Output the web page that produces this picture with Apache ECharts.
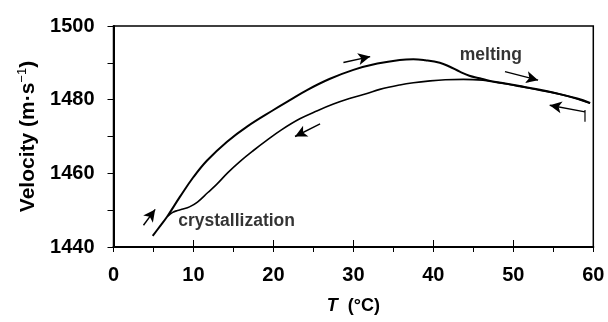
<!DOCTYPE html>
<html>
<head>
<meta charset="utf-8">
<script src="https://cdn.jsdelivr.net/npm/echarts@6/dist/echarts.min.js"></script>
<style>
  html, body { margin: 0; padding: 0; background: #fff; }
  #chart { width: 608px; height: 322px; }
</style>
</head>
<body>
<div id="chart"></div>
<script>
// Sound velocity vs temperature: heating (melting) and cooling (crystallization) runs
const heatT = [4.9, 5.8, 6.7, 8.3, 10, 11.7, 14.2, 16.7, 20, 22, 24.2, 27, 30, 33, 35.8, 37.5, 39, 40.8, 42, 43.3, 44.5, 45.8, 47.1, 49, 50.8, 53, 55.8, 58, 59.6];
const heatV = [1443.0, 1445.6, 1448.2, 1453.6, 1459.0, 1463.5, 1468.6, 1472.7, 1477.2, 1479.8, 1482.6, 1485.6, 1488.1, 1489.8, 1490.8, 1491.0, 1490.7, 1490.0, 1489.0, 1487.6, 1486.5, 1485.8, 1485.1, 1484.4, 1483.7, 1482.8, 1481.5, 1480.3, 1479.1];

const coolT = [59.6, 58, 55.8, 53, 50.8, 49, 47, 46.2, 43.75, 41.5, 39.6, 37.5, 35.8, 33.3, 31.7, 29.5, 27.5, 25.5, 23.3, 21, 19.2, 17.5, 15.8, 14.3, 12.9, 11.8, 10.5, 9.5, 8.7, 8.0, 7.4, 6.8];
const coolV = [1479.0, 1480.2, 1481.5, 1482.7, 1483.6, 1484.3, 1485.0, 1485.3, 1485.5, 1485.4, 1485.1, 1484.6, 1484.0, 1482.8, 1481.7, 1480.3, 1478.8, 1477.0, 1474.8, 1471.8, 1469.0, 1466.2, 1463.2, 1460.2, 1457.0, 1454.8, 1452.2, 1450.9, 1450.3, 1449.9, 1449.4, 1448.4];

// direction arrows: [T_from, V_from, T_to, V_to]
const arrows = [
  [3.75, 1445.9, 5.21, 1450.2],
  [28.75, 1490.1, 32.1, 1491.7],
  [25.83, 1473.4, 22.7, 1470.0],
  [48.96, 1487.6, 53.1, 1485.3],
  [58.96, 1476.7, 54.55, 1478.5]
];
// end marker bar on the cooling run
const endBar = [[58.96, 1477.2], [58.96, 1474.0]];

const notes = [[8.1, 1447.05, 'crystallization'], [43.3, 1492.1, 'melting']];

const xTicks = [0, 10, 20, 30, 40, 50, 60];
const yTicks = [1440, 1460, 1480, 1500];

const FONT = '"Liberation Sans", Arial, Helvetica, sans-serif';

const zip = (a, b) => a.map((v, i) => [v, b[i]]);

const chart = echarts.init(document.getElementById('chart'), null, { renderer: 'canvas' });

chart.setOption({
  animation: false,
  backgroundColor: '#fff',
  grid: {
    left: 113.5, right: 14.7, top: 26, bottom: 75,
    show: true, borderColor: '#000', borderWidth: 1.5, backgroundColor: 'transparent'
  },
  xAxis: [{
    type: 'value', min: 0, max: 60, interval: 5,
    axisLine: { show: true, onZero: false, lineStyle: { color: '#000', width: 2 } },
    axisTick: { show: true, length: 5, lineStyle: { color: '#000', width: 1 } },
    splitLine: { show: false },
    axisLabel: {
      margin: 18, color: '#000', fontSize: 20, fontWeight: 'bold', fontFamily: FONT,
      formatter: v => xTicks.includes(v) ? String(v) : ''
    },
    name: '{i|T}  (°C)',
    nameLocation: 'middle', nameGap: 50,
    nameTextStyle: {
      color: '#000', fontSize: 18, fontWeight: 'bold', fontFamily: FONT,
      rich: { i: { fontSize: 18, fontWeight: 'bold', fontStyle: 'italic', fontFamily: FONT, color: '#000' } }
    }
  }, {
    // inward major ticks
    type: 'value', min: 0, max: 60, interval: 10, position: 'bottom',
    axisLine: { show: false },
    axisTick: { show: true, inside: true, length: 7, lineStyle: { color: '#000', width: 1 } },
    axisLabel: { show: false },
    splitLine: { show: false }
  }],
  yAxis: {
    type: 'value', min: 1440, max: 1500, interval: 10,
    axisLine: { show: true, onZero: false, lineStyle: { color: '#000', width: 2 } },
    axisTick: { show: true, length: 6, lineStyle: { color: '#000', width: 1 } },
    splitLine: { show: false },
    axisLabel: {
      margin: 19, color: '#000', fontSize: 20, fontWeight: 'bold', fontFamily: FONT,
      padding: [0, 0, 8, 0],
      formatter: v => yTicks.includes(v) ? String(v) : ''
    },
    name: 'Velocity (m·s{sup|−1})',
    nameLocation: 'middle', nameGap: 72, nameRotate: 90,
    nameTextStyle: {
      color: '#000', fontSize: 21, fontWeight: 'bold', fontFamily: FONT,
      rich: { sup: { fontSize: 13, fontWeight: 'normal', fontFamily: FONT, color: '#000', padding: [0, 0, 12, 0] } }
    }
  },
  series: [
    {
      name: 'heating', type: 'line', data: zip(heatT, heatV), smooth: 0.4,
      showSymbol: false, lineStyle: { color: '#000', width: 2 }, z: 3
    },
    {
      name: 'cooling', type: 'line', data: zip(coolT, coolV), smooth: 0.4,
      showSymbol: false, lineStyle: { color: '#000', width: 1.6 }, z: 3,
      markLine: {
        silent: true, animation: false,
        symbol: ['none', 'arrow'], symbolSize: [9, 12],
        label: { show: false },
        lineStyle: { color: '#000', width: 1.4, type: 'solid' },
        data: arrows.map(a => [{ coord: [a[0], a[1]] }, { coord: [a[2], a[3]] }])
      }
    },
    {
      name: 'end', type: 'line', data: endBar, showSymbol: false,
      lineStyle: { color: '#000', width: 1.2 }
    },
    {
      name: 'notes', type: 'scatter', symbolSize: 0,
      data: notes.map(n => ({ value: [n[0], n[1]], name: n[2] })),
      label: {
        show: true, position: 'right', distance: 0,
        formatter: p => p.name,
        color: '#000', fontSize: 17.5, fontWeight: 'bold', fontFamily: FONT
      }
    }
  ]
});
</script>
</body>
</html>
